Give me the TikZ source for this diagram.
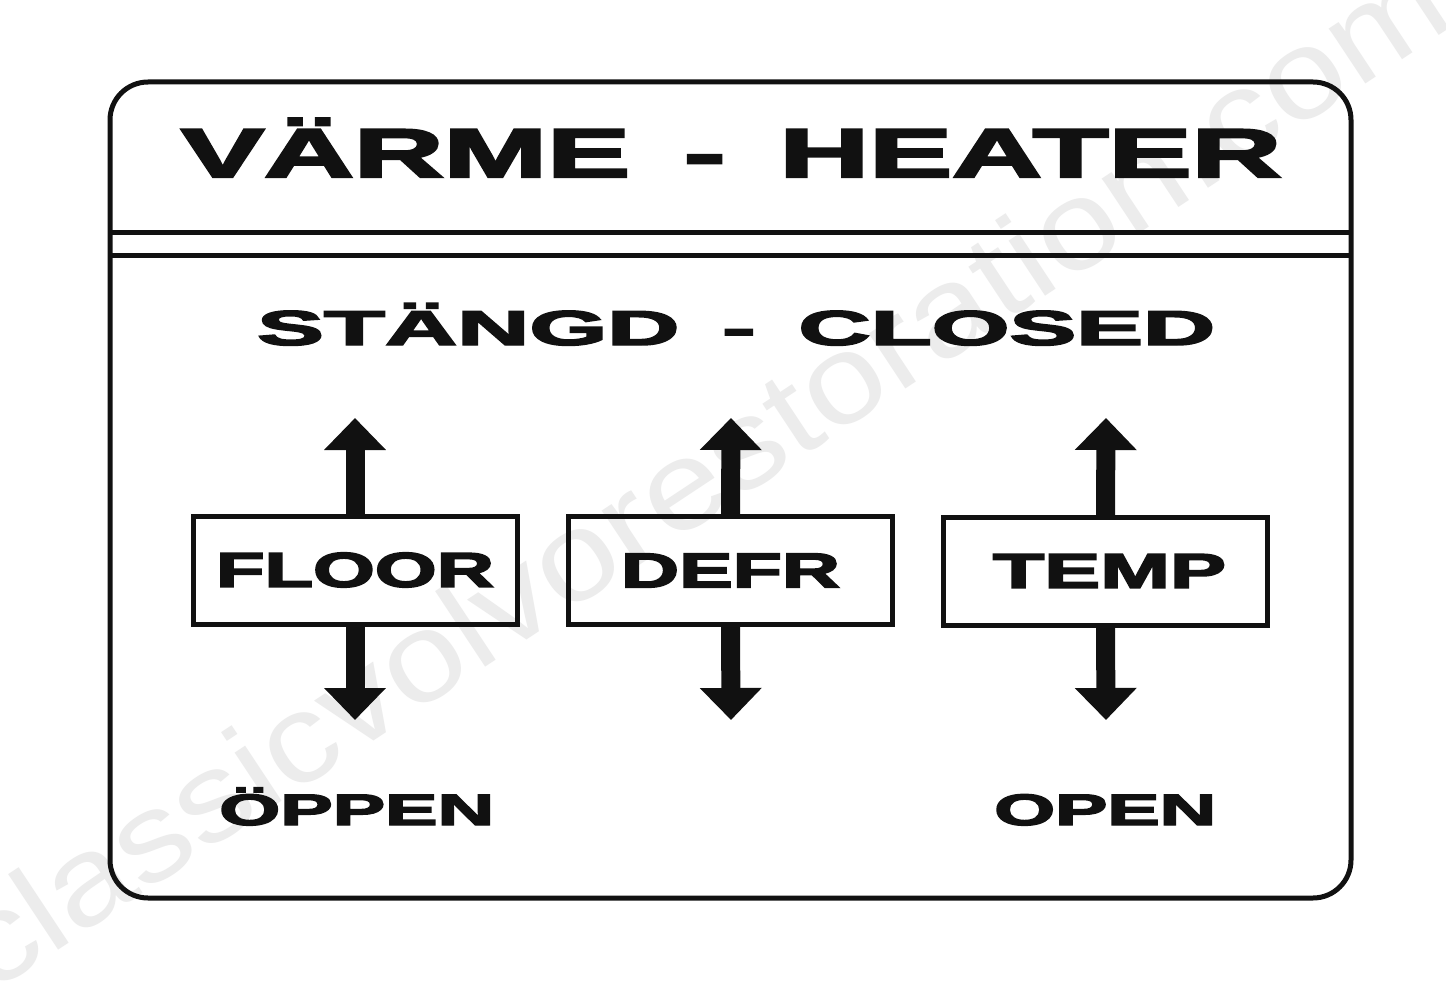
\documentclass[tikz,border=0pt]{standalone}
\usepackage{fontspec}
\usepackage{graphicx}
\usetikzlibrary{arrows.meta}
\newfontfamily\lblfont[BoldFeatures={FakeBold=3}]{Liberation Sans}
\newfontfamily\wmfont{Liberation Sans}
\newcommand{\fitw}[2]{\resizebox{#1}{\height}{#2}}
\definecolor{ink}{HTML}{111111}
\definecolor{wmgray}{HTML}{ECECEC}
\begin{document}
\begin{tikzpicture}[x=1pt,y=-1pt,
  frame/.style={draw=ink, line width=5pt, rounded corners=38pt},
  rule/.style={draw=ink, line width=5pt},
  ctrlbox/.style={draw=ink, line width=5pt, minimum width=324pt, minimum height=108pt,
    inner sep=0pt, outer sep=0pt, text=ink,
    font=\lblfont\bfseries\fontsize{49pt}{49pt}\selectfont},
  lbl/.style={anchor=base west, inner sep=0pt, text=ink},
  updown/.style={draw=ink, line width=19pt, -{Triangle[width=60pt,length=32pt]}},
  wm/.style={anchor=base west, inner sep=0pt, text=wmgray,
    font=\wmfont\fontsize{125pt}{125pt}\selectfont}
]
\fill[white] (0,0) rectangle (1446,1000);
\useasboundingbox (0,0) rectangle (1446,1000);

% watermark
\node[wm, rotate=33.5] (wmark) at (-10,995) {\fitw{1760pt}{classicvolvorestoration.com}};

% frame and rules
\draw[frame] (110,82) rectangle (1351,898);
\draw[rule] (110,233) -- (1351,233);
\draw[rule] (110,256) -- (1351,256);

% headings
\node[lbl, font=\lblfont\bfseries\fontsize{69pt}{69pt}\selectfont] (title) at (181,177)
  {\fitw{1100pt}{VÄRME\hspace{30pt}-\hspace{30pt}HEATER}};
\node[lbl, font=\lblfont\bfseries\fontsize{49pt}{49pt}\selectfont] (closed) at (257,345)
  {\fitw{958pt}{STÄNGD\hspace{21pt}-\hspace{21pt}CLOSED}};

% control boxes
\node[ctrlbox] (floor) at (355,570) {\fitw{278pt}{FLOOR}};
\node[ctrlbox] (defr) at (730.5,570.5) {\fitw{219pt}{DEFR}};
\node[ctrlbox] (temp) at (1105.5,571) {\hspace*{8pt}\fitw{233pt}{TEMP}};

% arrow end points
\coordinate (floorUp) at (355,418);
\coordinate (floorDn) at (355,720);
\coordinate (defrUp) at (731,418);
\coordinate (defrDn) at (731,720);
\coordinate (tempUp) at (1106,418);
\coordinate (tempDn) at (1106,720);

\draw[updown] (floor.north) -- (floorUp);
\draw[updown] (floor.south) -- (floorDn);
\draw[updown] (defr.north) -- (defrUp);
\draw[updown] (defr.south) -- (defrDn);
\draw[updown] (temp.north) -- (tempUp);
\draw[updown] (temp.south) -- (tempDn);

% bottom labels
\node[lbl, font=\lblfont\bfseries\fontsize{44pt}{44pt}\selectfont] (oppen) at (219,825)
  {\fitw{275pt}{ÖPPEN}};
\node[lbl, font=\lblfont\bfseries\fontsize{44pt}{44pt}\selectfont] (open) at (994,825)
  {\fitw{222pt}{OPEN}};
\end{tikzpicture}
\end{document}
